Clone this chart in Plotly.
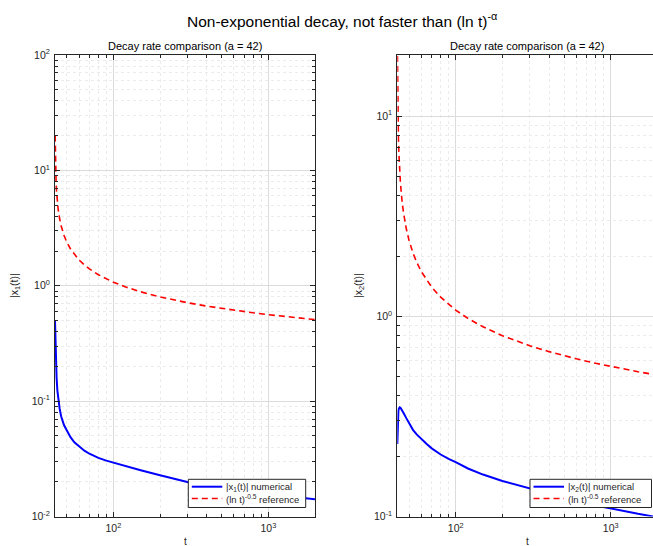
import plotly.graph_objects as go
import math

# ---- data ----
t = [42.0, 42.1, 42.2, 42.4, 42.7, 43.0, 43.5, 44.0, 45.0, 46.0, 48.0, 50.0, 53.0, 56.0,
     60.0, 65.0, 70.0, 80.0, 90.0, 100.0, 120.0, 150.0, 200.0, 250.0, 300.0, 400.0,
     500.0, 600.0, 800.0, 1000.0, 1200.0, 1500.0, 2000.0]

t_ref = [42.105, 42.2, 42.4, 42.7, 43.0, 43.5, 44.0, 45.0, 46.0, 48.0, 50.0, 53.0, 56.0,
         60.0, 65.0, 70.0, 80.0, 90.0, 100.0, 120.0, 150.0, 200.0, 250.0, 300.0, 400.0,
         500.0, 600.0, 800.0, 1000.0, 1200.0, 1500.0, 2000.0]
ref = [20.0, 14.51, 10.27, 7.78, 6.52, 5.34, 4.64, 3.807, 3.316, 2.737, 2.395, 2.073, 1.864,
       1.674, 1.513, 1.399, 1.246, 1.1455, 1.0737, 0.976, 0.8863, 0.8005, 0.7487, 0.7132,
       0.6661, 0.6354, 0.6132, 0.5825, 0.5617, 0.5462, 0.5288, 0.5088]

x1 = [0.50, 0.42, 0.36, 0.28, 0.20, 0.160, 0.124, 0.105, 0.086, 0.074, 0.062, 0.056, 0.0485,
      0.0440, 0.0405, 0.0372, 0.0350, 0.0322, 0.0305, 0.0293, 0.0272, 0.0252, 0.0228, 0.0212,
      0.0199, 0.01845, 0.0176, 0.0170, 0.01614, 0.01556, 0.01513, 0.01465, 0.0141]

x2 = [0.230, 0.262, 0.290, 0.318, 0.337, 0.346, 0.351, 0.349, 0.340, 0.330, 0.310, 0.293,
      0.271, 0.257, 0.243, 0.230, 0.219, 0.204, 0.194, 0.187, 0.1737, 0.162, 0.1505, 0.1437,
      0.139, 0.130, 0.124, 0.1196, 0.1136, 0.1095, 0.1065, 0.1031, 0.0992]

x_ticks = [100, 1000]
x_ticktext = ["10<sup>2</sup>", "10<sup>3</sup>"]
y1_ticks = [0.01, 0.1, 1, 10, 100]
y1_ticktext = ["10<sup>-2</sup>", "10<sup>-1</sup>", "10<sup>0</sup>", "10<sup>1</sup>", "10<sup>2</sup>"]
y2_ticks = [0.1, 1, 10]
y2_ticktext = ["10<sup>-1</sup>", "10<sup>0</sup>", "10<sup>1</sup>"]

a_val = 42
main_title = "Non-exponential decay, not faster than (ln t)<sup>-α</sup>"
sub_title = f"Decay rate comparison (a = {a_val})"
ylabels = ["|x<sub>1</sub>(t)|", "|x<sub>2</sub>(t)|"]
names_num = ["|x<sub>1</sub>(t)| numerical", "|x<sub>2</sub>(t)| numerical"]
name_ref = "(ln t)<sup>-0.5</sup> reference"

W, H = 653, 546
FONT = "Liberation Sans, Arial, Helvetica, sans-serif"
AX = "#262626"
BLUE = "#0000ff"
RED = "#ff0000"
DASH = "6px,4px"

def px_x(p):
    return p / W

def px_y(p):
    return 1 - p / H

fig = go.Figure()

fig.add_trace(go.Scatter(x=t, y=x1, mode="lines", name=names_num[0],
                         line=dict(color=BLUE, width=2), xaxis="x", yaxis="y"))
fig.add_trace(go.Scatter(x=t_ref, y=ref, mode="lines", name=name_ref,
                         line=dict(color=RED, width=1.6, dash=DASH), xaxis="x", yaxis="y"))
fig.add_trace(go.Scatter(x=t, y=x2, mode="lines", name=names_num[1],
                         line=dict(color=BLUE, width=2), xaxis="x2", yaxis="y2"))
fig.add_trace(go.Scatter(x=t_ref, y=ref, mode="lines", name=name_ref,
                         line=dict(color=RED, width=1.6, dash=DASH), xaxis="x2", yaxis="y2"))

ydom = [px_y(516.5), px_y(55)]

def ax(domain, rng, tv, tt, anchor, mirror=True):
    return dict(type="log", domain=domain, range=rng, anchor=anchor,
                tickmode="array", tickvals=tv, ticktext=tt, automargin=False,
                showline=True, linecolor=AX, linewidth=1,
                mirror="ticks" if mirror else False,
                ticks="inside", ticklen=5, tickcolor=AX, ticklabelstandoff=2,
                tickfont=dict(family=FONT, size=10.5, color=AX),
                showgrid=True, gridcolor="#dcdcdc", gridwidth=1,
                minor=dict(dtick="D1", ticks="inside", ticklen=3, tickcolor=AX,
                           showgrid=True, gridcolor="#ebebeb", griddash="dot"),
                zeroline=False, fixedrange=True)

x2_left = 397.3
x2_max = math.log10(42) + (W - x2_left) / 155.0

layout = dict(
    width=W, height=H, margin=dict(l=0, r=0, t=0, b=0, autoexpand=False),
    paper_bgcolor="white", plot_bgcolor="white", showlegend=False,
    font=dict(family=FONT, color=AX),
    xaxis=ax([px_x(55), px_x(315)], [math.log10(42), math.log10(2000)], x_ticks, x_ticktext, "y"),
    yaxis=ax(ydom, [-2, 2], y1_ticks, y1_ticktext, "x"),
    xaxis2=ax([px_x(x2_left), 1.0], [math.log10(42), x2_max], x_ticks, x_ticktext, "y2"),
    yaxis2=ax(ydom, [-1, math.log10(20.2)], y2_ticks, y2_ticktext, "x2", mirror=False),
)
fig.update_layout(**layout)

ann = []
shapes = []

def txt(text, x, y, size, color=AX, xa="center", angle=0):
    return dict(text=text, x=px_x(x), y=px_y(y), xref="paper", yref="paper",
                xanchor=xa, yanchor="middle", showarrow=False, textangle=angle,
                font=dict(family=FONT, size=size, color=color))

ann.append(txt(main_title, 342, 20, 15.5, "black"))
for cx in (185, 527):
    ann.append(txt(sub_title, cx, 46, 11, "black"))
    ann.append(txt("t", cx, 541, 10))
ann.append(txt(ylabels[0], 15, 286, 10.5, angle=-90))
ann.append(txt(ylabels[1], 359, 286, 10.5, angle=-90))

# legends (one per panel), drawn as a boxed key
for (bx0, bx1, name_num) in ((188.3, 305.7, names_num[0]), (530.0, 651.5, names_num[1])):
    by0, by1 = 479.3, 507.5
    shapes.append(dict(type="rect", xref="paper", yref="paper",
                       x0=px_x(bx0), x1=px_x(bx1), y0=px_y(by1), y1=px_y(by0),
                       line=dict(color=AX, width=1), fillcolor="white", layer="above"))
    rows = ((486.7, BLUE, "solid", 2, name_num), (498.5, RED, DASH, 1.6, name_ref))
    for ry, col, dsh, lw, label in rows:
        shapes.append(dict(type="line", xref="paper", yref="paper",
                           x0=px_x(bx0 + 3.5), x1=px_x(bx0 + 34), y0=px_y(ry), y1=px_y(ry),
                           line=dict(color=col, width=lw, dash=dsh), layer="above"))
        ann.append(txt(label, bx0 + 35.5, ry, 9.5, xa="left"))

fig.update_layout(annotations=ann, shapes=shapes)

fig.write_html("out.html", config={"displayModeBar": False},
               post_script="document.body.style.margin='0';document.body.style.overflow='hidden';")
